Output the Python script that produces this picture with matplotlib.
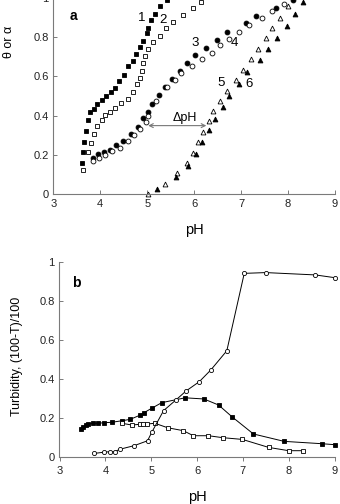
import numpy as np
import matplotlib
matplotlib.use("Agg")
import matplotlib.pyplot as plt

plt.rcParams['font.family'] = ['Liberation Sans', 'DejaVu Sans']

# panel a: theta or alpha vs pH
ph1 = [3.60, 3.64, 3.66, 3.69, 3.74, 3.78, 3.87, 3.94, 4.04, 4.13, 4.23, 4.32, 4.39, 4.50,
       4.59, 4.69, 4.77, 4.84, 4.91, 4.99, 5.02, 5.07, 5.16, 5.27, 5.43]
th1 = [0.159, 0.214, 0.265, 0.323, 0.379, 0.417, 0.436, 0.460, 0.482, 0.499, 0.520, 0.540, 0.576, 0.609,
       0.653, 0.678, 0.713, 0.749, 0.781, 0.820, 0.848, 0.886, 0.920, 0.957, 0.990]
ph2 = [3.64, 3.74, 3.80, 3.87, 3.94, 4.03, 4.10, 4.20, 4.31, 4.45, 4.58, 4.69, 4.79, 4.84,
       4.88, 4.91, 4.95, 5.01, 5.13, 5.27, 5.39, 5.55, 5.77, 5.97, 6.15]
th2 = [0.123, 0.214, 0.260, 0.304, 0.345, 0.376, 0.405, 0.419, 0.439, 0.465, 0.487, 0.520, 0.559, 0.590,
       0.627, 0.670, 0.704, 0.738, 0.773, 0.807, 0.845, 0.880, 0.914, 0.949, 0.981]
ph3 = [3.85, 3.96, 4.08, 4.20, 4.34, 4.49, 4.65, 4.81, 4.91, 5.01, 5.11, 5.26, 5.38, 5.53,
       5.70, 5.85, 6.02, 6.25, 6.48, 6.71, 7.10, 7.32, 7.74, 8.11]
th3 = [0.183, 0.205, 0.214, 0.226, 0.250, 0.272, 0.308, 0.340, 0.386, 0.417, 0.460, 0.504, 0.544, 0.585,
       0.626, 0.670, 0.708, 0.747, 0.786, 0.829, 0.870, 0.910, 0.950, 0.990]
ph4 = [3.85, 3.98, 4.10, 4.24, 4.42, 4.58, 4.72, 4.84, 4.97, 5.02, 5.19, 5.43, 5.59, 5.73,
       5.95, 6.17, 6.37, 6.56, 6.75, 6.96, 7.17, 7.45, 7.67, 7.92]
th4 = [0.171, 0.183, 0.200, 0.217, 0.234, 0.273, 0.303, 0.332, 0.368, 0.400, 0.473, 0.547, 0.581, 0.619,
       0.653, 0.688, 0.720, 0.760, 0.793, 0.829, 0.863, 0.900, 0.932, 0.969]
ph5 = [5.01, 5.38, 5.64, 5.84, 5.98, 6.09, 6.19, 6.32, 6.41, 6.55, 6.71, 6.89, 7.05, 7.21,
       7.37, 7.53, 7.67, 7.83, 8.00]
th5 = [0.000, 0.051, 0.106, 0.157, 0.209, 0.263, 0.318, 0.371, 0.422, 0.473, 0.528, 0.583, 0.634, 0.687,
       0.742, 0.795, 0.848, 0.900, 0.957]
ph6 = [5.20, 5.61, 5.87, 6.03, 6.16, 6.31, 6.44, 6.62, 6.74, 6.96, 7.12, 7.40, 7.57, 7.76,
       7.97, 8.15, 8.33]
th6 = [0.026, 0.086, 0.144, 0.204, 0.263, 0.325, 0.383, 0.443, 0.499, 0.559, 0.622, 0.682, 0.742, 0.798,
       0.858, 0.918, 0.978]

# panel b: turbidity vs pH
phb_fsq = [3.47, 3.52, 3.57, 3.63, 3.72, 3.85, 3.97, 4.14, 4.36, 4.54, 4.76, 4.84, 5.01, 5.23,
           5.74, 6.15, 6.47, 6.76, 7.23, 7.90, 8.72, 9.00]
tb_fsq = [0.141, 0.154, 0.163, 0.168, 0.172, 0.172, 0.175, 0.177, 0.185, 0.192, 0.214, 0.226, 0.249, 0.278,
          0.303, 0.297, 0.266, 0.206, 0.117, 0.079, 0.067, 0.062]
phb_osq = [4.36, 4.58, 4.76, 4.82, 4.90, 5.08, 5.36, 5.70, 5.92, 6.25, 6.56, 6.99, 7.56, 8.00, 8.31]
tb_osq = [0.172, 0.163, 0.167, 0.167, 0.168, 0.172, 0.149, 0.134, 0.108, 0.108, 0.098, 0.089, 0.048, 0.031, 0.031]
phb_oc = [3.76, 3.96, 4.10, 4.21, 4.31, 4.63, 4.92, 5.02, 5.27, 5.54, 5.76, 6.05, 6.30, 6.65,
          7.03, 7.50, 8.58, 9.00]
tb_oc = [0.017, 0.023, 0.026, 0.026, 0.038, 0.057, 0.082, 0.129, 0.237, 0.292, 0.338, 0.386, 0.446, 0.545,
         0.943, 0.947, 0.935, 0.921]

ticks_x = [3, 4, 5, 6, 7, 8, 9]
ticks_y = [0, 0.2, 0.4, 0.6, 0.8, 1]
tick_labels_y = ['0', '0.2', '0.4', '0.6', '0.8', '1']

fig = plt.figure(figsize=(3.4, 5.04), dpi=100)
axa = fig.add_axes([0.157, 0.615, 0.828, 0.389])
axb = fig.add_axes([0.175, 0.0938, 0.809, 0.3858])

spine_col = '#7a7a7a'
for ax in (axa, axb):
    ax.set_xlim(3, 9)
    ax.set_ylim(0, 1)
    ax.set_xticks(ticks_x)
    ax.set_yticks(ticks_y)
    ax.set_yticklabels(tick_labels_y)
    ax.spines['top'].set_visible(False)
    ax.spines['right'].set_visible(False)
    for s in ('left', 'bottom'):
        ax.spines[s].set_color(spine_col)
        ax.spines[s].set_linewidth(0.8)
    ax.tick_params(labelsize=8, colors='#222222', length=3, width=0.7)
    ax.tick_params(color=spine_col)
    ax.set_xlabel('pH', fontsize=10.5)

axa.tick_params(direction='in')
axb.tick_params(axis='y', direction='in')
axb.tick_params(axis='x', direction='out')

# panel a
axa.plot(ph1, th1, 's', ms=3.5, color='black', mec='black', mew=0.6, clip_on=False)
axa.plot(ph2, th2, 's', ms=3.5, color='white', mec='black', mew=0.6, clip_on=False)
axa.plot(ph3, th3, 'o', ms=3.5, color='black', mec='black', mew=0.6, clip_on=False)
axa.plot(ph4, th4, 'o', ms=3.5, color='white', mec='black', mew=0.6, clip_on=False)
axa.plot(ph5, th5, '^', ms=3.5, color='white', mec='black', mew=0.6, clip_on=False)
axa.plot(ph6, th6, '^', ms=3.5, color='black', mec='black', mew=0.6, clip_on=False)

for lbl, x, y in [('1', 4.88, 0.896), ('2', 5.34, 0.887), ('3', 6.03, 0.768),
                  ('4', 6.85, 0.768), ('5', 6.57, 0.564), ('6', 7.17, 0.559)]:
    axa.text(x, y, lbl, fontsize=9.5, ha='center', va='center')
axa.text(3.42, 0.91, 'a', fontsize=10, fontweight='bold', ha='center', va='center')
axa.annotate('', xy=(5.02, 0.349), xytext=(6.26, 0.349),
             arrowprops=dict(arrowstyle='<->', color='#777777', lw=0.8,
                             shrinkA=0, shrinkB=0, mutation_scale=7))
axa.text(5.80, 0.39, '\u0394pH', fontsize=9, ha='center', va='center')
axa.set_ylabel('\u03b8 or \u03b1', fontsize=9)
axa.yaxis.set_label_coords(-0.135, 0.774)
axa.xaxis.set_label_coords(0.5, -0.15)

# panel b
axb.plot(phb_fsq, tb_fsq, 's-', ms=3.0, color='black', mfc='black', mew=0.6, lw=0.7, clip_on=False)
axb.plot(phb_osq, tb_osq, 's-', ms=3.0, color='black', mfc='white', mew=0.6, lw=0.7, clip_on=False)
axb.plot(phb_oc, tb_oc, 'o-', ms=3.0, color='black', mfc='white', mew=0.6, lw=0.7, clip_on=False)
axb.text(3.37, 0.895, 'b', fontsize=10, fontweight='bold', ha='center', va='center')
axb.set_ylabel('Turbidity, (100-T)/100', fontsize=9)
axb.yaxis.set_label_coords(-0.133, 0.518)
axb.xaxis.set_label_coords(0.5, -0.17)

fig.savefig('out.png', dpi=100)
